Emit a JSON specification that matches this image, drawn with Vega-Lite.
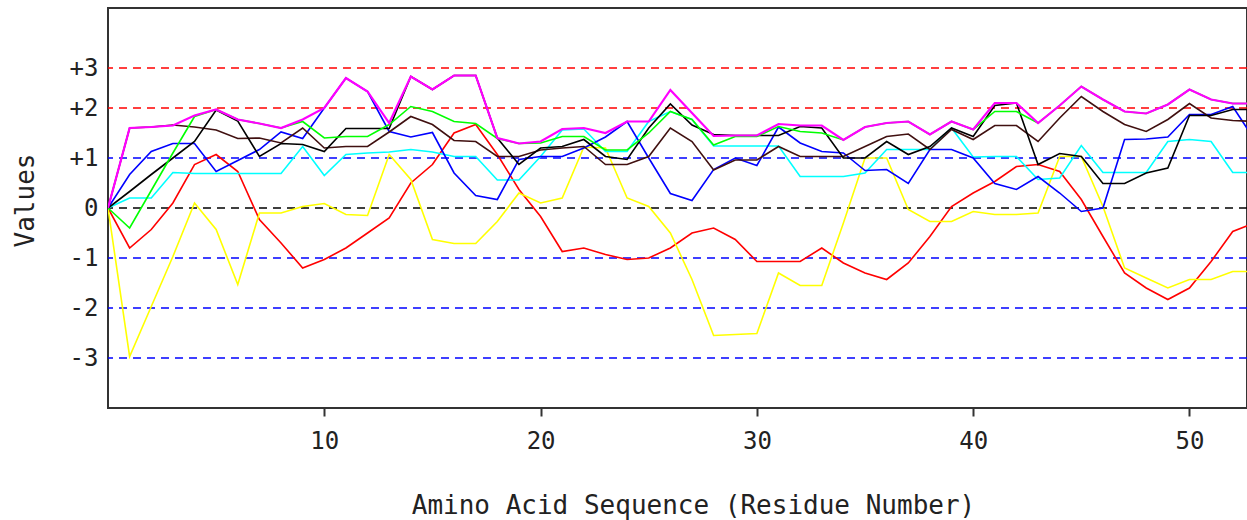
{
  "$schema": "https://vega.github.io/schema/vega-lite/v6.json",
  "width": 1139,
  "height": 400,
  "autosize": {"type": "none"},
  "padding": {"left": 108, "top": 8, "right": 0, "bottom": 112},
  "background": "white",
  "config": {"view": {"stroke": "#333", "strokeWidth": 2}},
  "layer": [
    {
      "data": {"values": [
        {"v": 2.8, "c": "#FF0000"}, {"v": 2, "c": "#FF0000"}, {"v": 1, "c": "#0000FF"},
        {"v": 0, "c": "#000000"}, {"v": -1, "c": "#0000FF"}, {"v": -2, "c": "#0000FF"}, {"v": -3, "c": "#0000FF"}
      ]},
      "mark": {"type": "rule", "strokeDash": [8, 6], "strokeWidth": 1.5},
      "encoding": {
        "y": {"field": "v", "type": "quantitative", "scale": {"domain": [-4, 4], "nice": false},
          "axis": {"values": [-3, -2, -1, 0, 1, 2, 2.8], "ticks": false, "domain": false, "grid": false, "labelPadding": 10,
            "labelFontSize": 24, "labelFont": "DejaVu Sans Mono", "labelColor": "#222",
            "labelExpr": "datum.value > 2.5 ? '+3' : datum.value > 0 ? '+' + datum.value : datum.value < 0 ? '-' + (-datum.value) : '0'",
            "title": "Values", "titleFont": "DejaVu Sans Mono", "titleFontSize": 26, "titleFontWeight": "normal", "titleColor": "#222",
            "titleX": -83, "titleY": 192, "titleBaseline": "middle", "titleAngle": 270, "titleAlign": "center"}},
        "stroke": {"field": "c", "type": "nominal", "scale": null}
      }
    },
    {
      "data": {"values": [
        {"r": 0, "magenta": 0, "green": 0, "black": 0, "brown": 0, "blue": 0, "cyan": 0, "red": 0, "yellow": 0},
        {"r": 1, "magenta": 1.6, "green": -0.4, "black": 0.33, "brown": 1.6, "blue": 0.67, "cyan": 0.2, "red": -0.8, "yellow": -2.97},
        {"r": 2, "magenta": 1.62, "green": 0.35, "black": 0.67, "brown": 1.62, "blue": 1.13, "cyan": 0.2, "red": -0.43, "yellow": -1.97},
        {"r": 3, "magenta": 1.65, "green": 1.1, "black": 1.0, "brown": 1.66, "blue": 1.29, "cyan": 0.71, "red": 0.1, "yellow": -0.97},
        {"r": 4, "magenta": 1.85, "green": 1.83, "black": 1.33, "brown": 1.62, "blue": 1.29, "cyan": 0.69, "red": 0.87, "yellow": 0.1},
        {"r": 5, "magenta": 1.97, "green": 1.97, "black": 1.96, "brown": 1.56, "blue": 0.73, "cyan": 0.69, "red": 1.07, "yellow": -0.43},
        {"r": 6, "magenta": 1.77, "green": 1.77, "black": 1.74, "brown": 1.39, "blue": 0.95, "cyan": 0.69, "red": 0.73, "yellow": -1.53},
        {"r": 7, "magenta": 1.69, "green": 1.69, "black": 1.03, "brown": 1.4, "blue": 1.17, "cyan": 0.69, "red": -0.23, "yellow": -0.1},
        {"r": 8, "magenta": 1.6, "green": 1.6, "black": 1.29, "brown": 1.3, "blue": 1.52, "cyan": 0.69, "red": -0.7, "yellow": -0.1},
        {"r": 9, "magenta": 1.77, "green": 1.73, "black": 1.27, "brown": 1.6, "blue": 1.39, "cyan": 1.23, "red": -1.2, "yellow": 0.03},
        {"r": 10, "magenta": 2.0, "green": 1.4, "black": 1.13, "brown": 1.2, "blue": 2.0, "cyan": 0.65, "red": -1.03, "yellow": 0.09},
        {"r": 11, "magenta": 2.6, "green": 1.43, "black": 1.59, "brown": 1.23, "blue": 2.6, "cyan": 1.07, "red": -0.8, "yellow": -0.13},
        {"r": 12, "magenta": 2.33, "green": 1.43, "black": 1.59, "brown": 1.23, "blue": 2.33, "cyan": 1.1, "red": -0.5, "yellow": -0.15},
        {"r": 13, "magenta": 1.7, "green": 1.67, "black": 1.59, "brown": 1.52, "blue": 1.53, "cyan": 1.12, "red": -0.2, "yellow": 1.07},
        {"r": 14, "magenta": 2.63, "green": 2.03, "black": 2.63, "brown": 1.83, "blue": 1.42, "cyan": 1.17, "red": 0.5, "yellow": 0.57},
        {"r": 15, "magenta": 2.37, "green": 1.93, "black": 2.37, "brown": 1.67, "blue": 1.51, "cyan": 1.12, "red": 0.87, "yellow": -0.63},
        {"r": 16, "magenta": 2.65, "green": 1.73, "black": 2.65, "brown": 1.35, "blue": 0.7, "cyan": 1.03, "red": 1.5, "yellow": -0.71},
        {"r": 17, "magenta": 2.65, "green": 1.69, "black": 2.65, "brown": 1.33, "blue": 0.25, "cyan": 1.03, "red": 1.67, "yellow": -0.71},
        {"r": 18, "magenta": 1.4, "green": 1.39, "black": 1.4, "brown": 1.03, "blue": 0.17, "cyan": 0.56, "red": 1.07, "yellow": -0.27},
        {"r": 19, "magenta": 1.29, "green": 1.29, "black": 0.87, "brown": 1.03, "blue": 0.97, "cyan": 0.56, "red": 0.37, "yellow": 0.3},
        {"r": 20, "magenta": 1.33, "green": 1.3, "black": 1.2, "brown": 1.16, "blue": 1.03, "cyan": 1.03, "red": -0.17, "yellow": 0.1},
        {"r": 21, "magenta": 1.58, "green": 1.43, "black": 1.23, "brown": 1.2, "blue": 1.03, "cyan": 1.56, "red": -0.87, "yellow": 0.2},
        {"r": 22, "magenta": 1.6, "green": 1.43, "black": 1.37, "brown": 1.23, "blue": 1.2, "cyan": 1.58, "red": -0.8, "yellow": 1.22},
        {"r": 23, "magenta": 1.5, "green": 1.16, "black": 1.03, "brown": 0.87, "blue": 1.42, "cyan": 1.13, "red": -0.93, "yellow": 1.2},
        {"r": 24, "magenta": 1.73, "green": 1.16, "black": 0.97, "brown": 0.87, "blue": 1.73, "cyan": 1.13, "red": -1.03, "yellow": 0.2},
        {"r": 25, "magenta": 1.73, "green": 1.5, "black": 1.6, "brown": 1.03, "blue": 1.0, "cyan": 1.73, "red": -1.0, "yellow": 0.03},
        {"r": 26, "magenta": 2.36, "green": 1.93, "black": 2.08, "brown": 1.6, "blue": 0.29, "cyan": 1.93, "red": -0.8, "yellow": -0.5},
        {"r": 27, "magenta": 1.9, "green": 1.77, "black": 1.66, "brown": 1.33, "blue": 0.15, "cyan": 1.77, "red": -0.5, "yellow": -1.43},
        {"r": 28, "magenta": 1.44, "green": 1.26, "black": 1.47, "brown": 0.76, "blue": 0.77, "cyan": 1.24, "red": -0.4, "yellow": -2.55},
        {"r": 29, "magenta": 1.45, "green": 1.43, "black": 1.45, "brown": 0.96, "blue": 1.0, "cyan": 1.24, "red": -0.63, "yellow": -2.53},
        {"r": 30, "magenta": 1.45, "green": 1.43, "black": 1.45, "brown": 0.96, "blue": 0.85, "cyan": 1.24, "red": -1.07, "yellow": -2.51},
        {"r": 31, "magenta": 1.68, "green": 1.63, "black": 1.45, "brown": 1.23, "blue": 1.62, "cyan": 1.24, "red": -1.07, "yellow": -1.3},
        {"r": 32, "magenta": 1.65, "green": 1.53, "black": 1.63, "brown": 1.03, "blue": 1.3, "cyan": 0.63, "red": -1.07, "yellow": -1.55},
        {"r": 33, "magenta": 1.65, "green": 1.5, "black": 1.6, "brown": 1.03, "blue": 1.13, "cyan": 0.63, "red": -0.8, "yellow": -1.55},
        {"r": 34, "magenta": 1.36, "green": 1.36, "black": 1.0, "brown": 1.03, "blue": 1.1, "cyan": 0.63, "red": -1.1, "yellow": -0.3},
        {"r": 35, "magenta": 1.62, "green": 1.62, "black": 1.0, "brown": 1.23, "blue": 0.75, "cyan": 0.7, "red": -1.3, "yellow": 1.0},
        {"r": 36, "magenta": 1.7, "green": 1.7, "black": 1.33, "brown": 1.43, "blue": 0.77, "cyan": 1.17, "red": -1.43, "yellow": 1.0},
        {"r": 37, "magenta": 1.73, "green": 1.73, "black": 1.07, "brown": 1.48, "blue": 0.49, "cyan": 1.17, "red": -1.1, "yellow": -0.03},
        {"r": 38, "magenta": 1.47, "green": 1.47, "black": 1.23, "brown": 1.17, "blue": 1.17, "cyan": 1.17, "red": -0.57, "yellow": -0.27},
        {"r": 39, "magenta": 1.73, "green": 1.73, "black": 1.6, "brown": 1.57, "blue": 1.17, "cyan": 1.6, "red": 0.03, "yellow": -0.27},
        {"r": 40, "magenta": 1.57, "green": 1.57, "black": 1.43, "brown": 1.37, "blue": 1.0, "cyan": 1.02, "red": 0.3, "yellow": -0.07},
        {"r": 41, "magenta": 2.1, "green": 1.93, "black": 2.05, "brown": 1.65, "blue": 0.49, "cyan": 1.03, "red": 0.53, "yellow": -0.13},
        {"r": 42, "magenta": 2.1, "green": 1.93, "black": 2.1, "brown": 1.65, "blue": 0.37, "cyan": 1.03, "red": 0.83, "yellow": -0.13},
        {"r": 43, "magenta": 1.7, "green": 1.7, "black": 0.87, "brown": 1.33, "blue": 0.63, "cyan": 0.57, "red": 0.87, "yellow": -0.1},
        {"r": 44, "magenta": 2.05, "green": 2.05, "black": 1.09, "brown": 1.8, "blue": 0.3, "cyan": 0.6, "red": 0.73, "yellow": 1.03},
        {"r": 45, "magenta": 2.43, "green": 2.43, "black": 1.03, "brown": 2.23, "blue": -0.07, "cyan": 1.25, "red": 0.17, "yellow": 1.03},
        {"r": 46, "magenta": 2.17, "green": 2.17, "black": 0.49, "brown": 1.93, "blue": 0.0, "cyan": 0.71, "red": -0.57, "yellow": 0.03},
        {"r": 47, "magenta": 1.93, "green": 1.93, "black": 0.49, "brown": 1.67, "blue": 1.37, "cyan": 0.71, "red": -1.3, "yellow": -1.2},
        {"r": 48, "magenta": 1.89, "green": 1.89, "black": 0.7, "brown": 1.53, "blue": 1.38, "cyan": 0.71, "red": -1.6, "yellow": -1.4},
        {"r": 49, "magenta": 2.07, "green": 2.07, "black": 0.8, "brown": 1.77, "blue": 1.42, "cyan": 1.33, "red": -1.83, "yellow": -1.6},
        {"r": 50, "magenta": 2.37, "green": 2.37, "black": 1.85, "brown": 2.09, "blue": 1.87, "cyan": 1.37, "red": -1.6, "yellow": -1.43},
        {"r": 51, "magenta": 2.17, "green": 2.17, "black": 1.85, "brown": 1.8, "blue": 1.87, "cyan": 1.33, "red": -1.07, "yellow": -1.43},
        {"r": 52, "magenta": 2.09, "green": 2.09, "black": 1.97, "brown": 1.75, "blue": 2.03, "cyan": 0.71, "red": -0.47, "yellow": -1.27},
        {"r": 53, "magenta": 2.09, "green": 2.09, "black": 1.97, "brown": 1.73, "blue": 1.37, "cyan": 0.71, "red": -0.3, "yellow": -1.27}
      ]},
      "transform": [{"fold": ["red", "yellow", "cyan", "blue", "brown", "black", "green", "magenta"], "as": ["series", "value"]}],
      "mark": {"type": "line", "clip": true},
      "encoding": {
        "x": {"field": "r", "type": "quantitative", "scale": {"domain": [0, 52.66], "nice": false, "zero": false},
          "axis": {"values": [10, 20, 30, 40, 50], "tickSize": 8, "tickColor": "#333", "tickWidth": 2, "domain": false, "grid": false,
            "labelPadding": 13, "labelFontSize": 24, "labelFont": "DejaVu Sans Mono", "labelColor": "#222",
            "title": "Amino Acid Sequence (Residue Number)", "titleFont": "DejaVu Sans Mono", "titleFontSize": 26, "titleFontWeight": "normal",
            "titleColor": "#222", "titleX": 585, "titleY": 105, "titleBaseline": "alphabetic"}},
        "y": {"field": "value", "type": "quantitative", "scale": {"domain": [-4, 4], "nice": false},
          "axis": {"values": [-3, -2, -1, 0, 1, 2, 2.8], "ticks": false, "domain": false, "grid": false, "labelPadding": 10,
            "labelFontSize": 24, "labelFont": "DejaVu Sans Mono", "labelColor": "#222",
            "labelExpr": "datum.value > 2.5 ? '+3' : datum.value > 0 ? '+' + datum.value : datum.value < 0 ? '-' + (-datum.value) : '0'",
            "title": "Values", "titleFont": "DejaVu Sans Mono", "titleFontSize": 26, "titleFontWeight": "normal", "titleColor": "#222",
            "titleX": -83, "titleY": 192, "titleBaseline": "middle", "titleAngle": 270, "titleAlign": "center"}},
        "color": {"field": "series", "type": "nominal", "legend": null,
          "scale": {"domain": ["red", "yellow", "cyan", "blue", "brown", "black", "green", "magenta"],
            "range": ["#FF0000", "#FFFF00", "#00FFFF", "#0000FF", "#401010", "#000000", "#00FF00", "#FF00FF"]}},
        "strokeWidth": {"condition": {"test": "datum.series === 'magenta'", "value": 2.2}, "value": 1.6}
      }
    }
  ]
}
